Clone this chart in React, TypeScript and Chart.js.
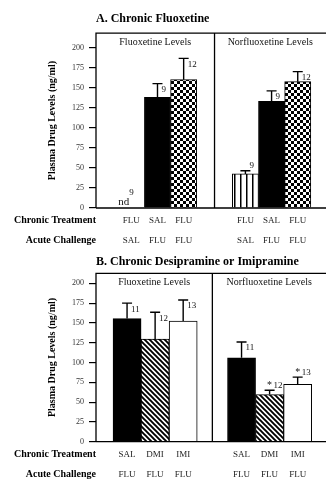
import React, { useEffect, useRef } from "react";
import { Chart, registerables } from "chart.js";

Chart.register(...registerables);

const SERIF = "'Liberation Serif', 'Times New Roman', Times, serif";

// ---------- shared ----------
const rowHeaders = ["Chronic Treatment", "Acute Challenge"];
const sectionNames = ["Fluoxetine Levels", "Norfluoxetine Levels"];
const yAxisTitle = "Plasma Drug Levels (ng/ml)";
const yTickValues = [0, 25, 50, 75, 100, 125, 150, 175, 200];

// ---------- Panel A: Chronic Fluoxetine ----------
const titleA = "A. Chronic Fluoxetine";
const chronicA = ["FLU", "SAL", "FLU"];
const acuteA = ["SAL", "FLU", "FLU"];
const fillsA = ["stripes", "solid", "checker"];
const fluoxMeanA: (number | null)[] = [null, 138, 160];
const fluoxErrA: (number | null)[] = [null, 155, 186.5];
const fluoxNA = [9, 9, 12];
const fluoxSigA = [false, false, false];
const norMeanA: (number | null)[] = [42.5, 133, 157.5];
const norErrA: (number | null)[] = [46.5, 146, 170];
const norNA = [9, 9, 12];
const norSigA = [false, false, false];

// ---------- Panel B: Chronic Desipramine or Imipramine ----------
const titleB = "B. Chronic Desipramine or Imipramine";
const chronicB = ["SAL", "DMI", "IMI"];
const acuteB = ["FLU", "FLU", "FLU"];
const fillsB = ["solid", "hatch", "open"];
const fluoxMeanB: (number | null)[] = [155.5, 129.5, 152.5];
const fluoxErrB: (number | null)[] = [175, 163.5, 179];
const fluoxNB = [11, 12, 13];
const fluoxSigB = [false, false, false];
const norMeanB: (number | null)[] = [106, 59.5, 72.5];
const norErrB: (number | null)[] = [126, 65, 81.5];
const norNB = [11, 12, 13];
const norSigB = [false, true, true];

type Group = { mean: (number | null)[]; err: (number | null)[]; n: number[]; sig: boolean[] };
type PanelData = { title: string; chronic: string[]; acute: string[]; fills: string[]; groups: Group[] };
type PanelLayout = {
  height: number; yMax: number; xMin: number; xMax: number; offset: number;
  titleTop: number; titleBottom: number; xAxisHeight: number;
};

const panelA: PanelData = {
  title: titleA, chronic: chronicA, acute: acuteA, fills: fillsA,
  groups: [
    { mean: fluoxMeanA, err: fluoxErrA, n: fluoxNA, sig: fluoxSigA },
    { mean: norMeanA, err: norErrA, n: norNA, sig: norSigA },
  ],
};
const panelB: PanelData = {
  title: titleB, chronic: chronicB, acute: acuteB, fills: fillsB,
  groups: [
    { mean: fluoxMeanB, err: fluoxErrB, n: fluoxNB, sig: fluoxSigB },
    { mean: norMeanB, err: norErrB, n: norNB, sig: norSigB },
  ],
};

const layoutA: PanelLayout = { height: 250, yMax: 218, xMin: -1.35, xMax: 7.44, offset: 4.36, titleTop: 11.7, titleBottom: 7, xAxisHeight: 42 };
const layoutB: PanelLayout = { height: 230, yMax: 212.7, xMin: -1.107, xMax: 7.09, offset: 4.08, titleTop: 4.9, titleBottom: 4, xAxisHeight: 38.3 };

const TICK_FONT = 9;
const TICK_LH = 2.2;
const TICK_PAD = 3;

function makeFill(ctx: CanvasRenderingContext2D, kind: string): string | CanvasPattern {
  if (kind === "solid") return "#000";
  if (kind === "open") return "#fff";
  const c = document.createElement("canvas");
  const g = c.getContext("2d")!;
  if (kind === "checker") {
    c.width = 6; c.height = 6;
    g.fillStyle = "#fff"; g.fillRect(0, 0, 6, 6);
    g.fillStyle = "#000"; g.fillRect(0, 0, 3, 3); g.fillRect(3, 3, 3, 3);
  } else if (kind === "stripes") {
    c.width = 6; c.height = 6;
    g.fillStyle = "#fff"; g.fillRect(0, 0, 6, 6);
    g.fillStyle = "#000"; g.fillRect(0, 0, 1.5, 6);
  } else if (kind === "hatch") {
    c.width = 5; c.height = 5;
    g.fillStyle = "#fff"; g.fillRect(0, 0, 5, 5);
    g.strokeStyle = "#000"; g.lineWidth = 1.9;
    g.beginPath();
    g.moveTo(-1, -1); g.lineTo(6, 6);
    g.moveTo(-1, 4); g.lineTo(1, 6);
    g.moveTo(4, -1); g.lineTo(6, 1);
    g.stroke();
  }
  return ctx.createPattern(c, "repeat") || "#888";
}

function PanelChart({ data, layout }: { data: PanelData; layout: PanelLayout }) {
  const ref = useRef<HTMLCanvasElement>(null);
  useEffect(() => {
    const canvas = ref.current!;
    const c2 = canvas.getContext("2d")!;
    const fills = data.fills.map((k) => makeFill(c2, k));
    const points: { x: number; y: number | null }[] = [];
    const bg: (string | CanvasPattern)[] = [];
    data.groups.forEach((g, gi) =>
      g.mean.forEach((m, i) => {
        points.push({ x: i + gi * layout.offset, y: m });
        bg.push(fills[i]);
      })
    );
    const tickXs = points.map((p) => p.x);
    const perGroup = data.groups[0].mean.length;
    const divider = (perGroup - 1 + layout.offset) / 2;

    const annot = {
      id: "annot",
      afterDatasetsDraw(chart: any) {
        const { ctx, chartArea: ca } = chart;
        const xs = chart.scales.x;
        const ys = chart.scales.y;
        ctx.save();
        ctx.strokeStyle = "#000";
        ctx.lineWidth = 1.3;
        const dx = xs.getPixelForValue(divider);
        ctx.beginPath();
        ctx.moveTo(ca.left, ca.bottom); ctx.lineTo(ca.left, ca.top); ctx.lineTo(ca.right, ca.top);
        ctx.moveTo(ca.left, ca.bottom); ctx.lineTo(ca.right, ca.bottom);
        ctx.moveTo(dx, ca.top); ctx.lineTo(dx, ca.bottom);
        ctx.stroke();

        ctx.fillStyle = "#111";
        ctx.font = `10px ${SERIF}`;
        ctx.textAlign = "center";
        ctx.textBaseline = "middle";
        ctx.fillText(sectionNames[0], (ca.left + dx) / 2, ca.top + 9.5);
        ctx.fillText(sectionNames[1], (dx + ca.right) / 2, ca.top + 9.5);

        ctx.lineWidth = 1.4;
        data.groups.forEach((g, gi) =>
          g.mean.forEach((m, i) => {
            const cx = xs.getPixelForValue(i + gi * layout.offset);
            if (m == null) {
              ctx.font = `11px ${SERIF}`;
              ctx.textAlign = "right";
              ctx.textBaseline = "alphabetic";
              ctx.fillText("nd", cx - 2, ca.bottom - 3);
              ctx.font = `9px ${SERIF}`;
              ctx.textAlign = "left";
              ctx.textBaseline = "middle";
              ctx.fillText(String(g.n[i]), cx - 2, ca.bottom - 15);
              return;
            }
            const e = g.err[i] as number;
            const py = ys.getPixelForValue(m);
            const pe = ys.getPixelForValue(e);
            ctx.beginPath();
            ctx.moveTo(cx, py); ctx.lineTo(cx, pe);
            ctx.moveTo(cx - 5, pe); ctx.lineTo(cx + 5, pe);
            ctx.stroke();
            const short = py - pe < 8;
            ctx.font = `9px ${SERIF}`;
            ctx.textAlign = "left";
            ctx.textBaseline = "middle";
            ctx.fillText(String(g.n[i]), cx + 4, short ? pe - 5 : pe + 6);
            if (g.sig[i]) {
              ctx.font = `10px ${SERIF}`;
              ctx.textAlign = "center";
              ctx.fillText("*", cx, pe - 5);
            }
          })
        );

        ctx.fillStyle = "#000";
        ctx.font = `bold 10px ${SERIF}`;
        ctx.textAlign = "right";
        ctx.textBaseline = "middle";
        const lh = TICK_FONT * TICK_LH;
        const row0 = xs.top + TICK_PAD + lh / 2;
        rowHeaders.forEach((t, k) => ctx.fillText(t, ca.left, row0 + k * lh));
        ctx.restore();
      },
    };

    const chart = new Chart(canvas, {
      type: "bar",
      data: {
        datasets: [
          {
            data: points as any,
            backgroundColor: bg as any,
            borderColor: "#000",
            borderWidth: 1,
            categoryPercentage: 1,
            barPercentage: 1,
          },
        ],
      },
      options: {
        responsive: false,
        animation: false,
        devicePixelRatio: 1,
        layout: { padding: { left: 42, right: 0, top: 0, bottom: 0 } },
        plugins: {
          legend: { display: false },
          tooltip: { enabled: false },
          title: {
            display: true,
            text: data.title,
            align: "start",
            fullSize: false,
            color: "#000",
            font: { family: SERIF, size: 12, weight: "bold" },
            padding: { top: layout.titleTop, bottom: layout.titleBottom },
          },
        },
        scales: {
          x: {
            type: "linear",
            offset: false,
            min: layout.xMin,
            max: layout.xMax,
            grid: { display: false, drawTicks: false, tickLength: 0, offset: false },
            border: { display: false },
            afterBuildTicks: (axis: any) => {
              axis.ticks = tickXs.map((v) => ({ value: v }));
            },
            afterFit: (axis: any) => {
              axis.height = layout.xAxisHeight;
            },
            ticks: {
              autoSkip: false,
              maxRotation: 0,
              minRotation: 0,
              padding: TICK_PAD,
              color: "#222",
              font: { family: SERIF, size: TICK_FONT, lineHeight: TICK_LH },
              callback: (_v: any, idx: number) => [data.chronic[idx % perGroup], data.acute[idx % perGroup]],
            },
          },
          y: {
            type: "linear",
            min: 0,
            max: layout.yMax,
            grid: { display: true, drawOnChartArea: false, drawTicks: true, tickLength: 7, color: "#000", lineWidth: 1.2 },
            border: { display: false },
            afterBuildTicks: (axis: any) => {
              axis.ticks = yTickValues.map((v) => ({ value: v }));
            },
            afterFit: (axis: any) => {
              axis.width = 54;
            },
            ticks: {
              padding: 5,
              color: "#333",
              font: { family: SERIF, size: 8 },
            },
            title: {
              display: true,
              text: yAxisTitle,
              color: "#000",
              font: { family: SERIF, size: 10, weight: "bold" },
              padding: { top: 4, bottom: 0 },
            },
          },
        },
      } as any,
      plugins: [annot],
    });
    return () => chart.destroy();
  }, [data, layout]);
  return (
    <canvas
      ref={ref}
      width={326}
      height={layout.height}
      style={{ display: "block", width: 326, height: layout.height }}
    />
  );
}

export default function App() {
  return (
    <div style={{ position: "absolute", left: 0, top: 0, width: 326, height: 480, background: "#fff" }}>
      <PanelChart data={panelA} layout={layoutA} />
      <PanelChart data={panelB} layout={layoutB} />
    </div>
  );
}
